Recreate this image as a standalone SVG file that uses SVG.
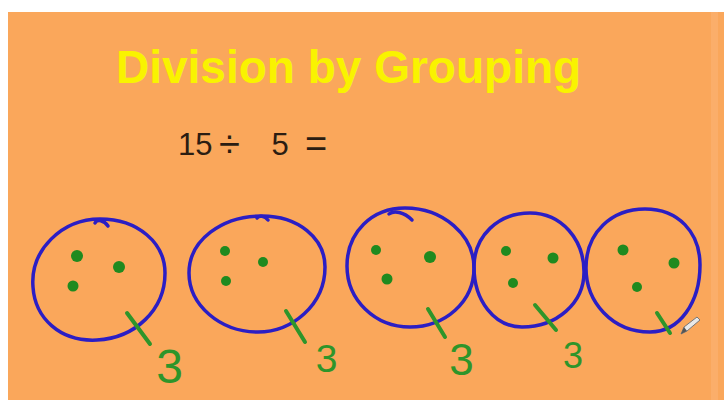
<svg xmlns="http://www.w3.org/2000/svg" width="724" height="400" viewBox="0 0 724 400">
  <style>
    .ring { fill: none; stroke: #2b1ec4; stroke-width: 3.5; stroke-linecap: round; stroke-linejoin: round; }
    .dot { fill: #1f8a1f; }
    .tick { stroke: #2e952a; stroke-width: 4; stroke-linecap: round; fill: none; }
    .three { font-family: "Liberation Sans", Arial, sans-serif; fill: #2e952a; text-anchor: middle; }
    .eq { font-family: "Liberation Sans", Arial, sans-serif; fill: #2b1d12; }
  </style>
  <rect x="0" y="0" width="724" height="400" fill="#ffffff"/>
  <rect x="8" y="12" width="716" height="388" fill="#faa75b"/>
  <rect x="711" y="12" width="7" height="388" fill="#fbb274" opacity="0.6"/>

  <g id="title">
    <text x="116" y="83" font-family="Liberation Sans, Arial, sans-serif" font-weight="bold" font-size="46" fill="#f9f300">Division by Grouping</text>
  </g>

  <g id="equation">
    <text class="eq" x="178" y="155" font-size="31">15</text>
    <text class="eq" x="229.5" y="157" font-size="38" text-anchor="middle">÷</text>
    <text class="eq" x="280" y="155" font-size="31" text-anchor="middle">5</text>
    <text class="eq" x="316" y="157" font-size="38" text-anchor="middle">=</text>
  </g>

  <g id="group1">
    <path class="ring" d="M 33,287 C 30,250 62,219 100,219 C 138,219 165,243 165,273 C 165,310 135,338 97,340 C 60,342 35,318 33,287 Z"/>
    <path class="ring" d="M 108,226 C 104,220 97,219 95,223"/>
    <circle class="dot" cx="77" cy="256" r="6"/>
    <circle class="dot" cx="119" cy="267" r="6"/>
    <circle class="dot" cx="73" cy="286" r="5.5"/>
    <text class="three" x="169.5" y="383" font-size="48">3</text>
  </g>

  <g id="group2">
    <path class="ring" d="M 189,273 C 189,240 222,216 262,216 C 298,216 325,238 325,267 C 325,305 292,332 258,332 C 220,332 189,305 189,273 Z"/>
    <path class="ring" d="M 268,220 C 265,216 259,215 257,218"/>
    <circle class="dot" cx="225" cy="251" r="5"/>
    <circle class="dot" cx="263" cy="262" r="5"/>
    <circle class="dot" cx="226" cy="281" r="5"/>
    <text class="three" x="326.5" y="372" font-size="39">3</text>
  </g>

  <g id="group3">
    <path class="ring" d="M 347,266 C 347,232 372,208 405,208 C 443,208 474,235 474,268 C 474,302 445,327 410,327 C 375,327 347,300 347,266 Z"/>
    <path class="ring" d="M 412,220 C 404,212 394,210 389,214"/>
    <circle class="dot" cx="376" cy="250" r="5"/>
    <circle class="dot" cx="430" cy="257" r="6"/>
    <circle class="dot" cx="387" cy="279" r="5.5"/>
    <text class="three" x="461.5" y="375" font-size="44">3</text>
  </g>

  <g id="group4">
    <path class="ring" d="M 474,267 C 474,236 498,213 530,213 C 562,213 584,240 584,272 C 584,303 557,327 522,327 C 494,327 474,300 474,267 Z"/>
    <circle class="dot" cx="506" cy="251" r="5"/>
    <circle class="dot" cx="553" cy="258" r="5.5"/>
    <circle class="dot" cx="513" cy="283" r="5"/>
    <text class="three" x="573" y="368" font-size="36">3</text>
  </g>

  <g id="group5">
    <path class="ring" d="M 586,268 C 586,232 612,209 645,209 C 678,209 700,232 700,265 C 700,302 680,332 650,332 C 612,332 586,302 586,268 Z"/>
    <circle class="dot" cx="623" cy="250" r="5.5"/>
    <circle class="dot" cx="674" cy="263" r="5.5"/>
    <circle class="dot" cx="637" cy="287" r="5"/>
  </g>

  <g id="connectors">
    <line class="tick" x1="127" y1="313" x2="150" y2="344"/>
    <line class="tick" x1="286" y1="311" x2="305" y2="342"/>
    <line class="tick" x1="428" y1="309" x2="445" y2="337"/>
    <line class="tick" x1="535" y1="305" x2="556" y2="330"/>
    <line class="tick" x1="657" y1="313" x2="670" y2="333"/>
  </g>

  <g id="pencil">
    <polygon points="681,334 684,327 697,317 700,320 687,331" fill="#e8e8e8" stroke="#777777" stroke-width="1"/>
    <polygon points="681,334 684,327 687,331" fill="#555555"/>
  </g>
</svg>
